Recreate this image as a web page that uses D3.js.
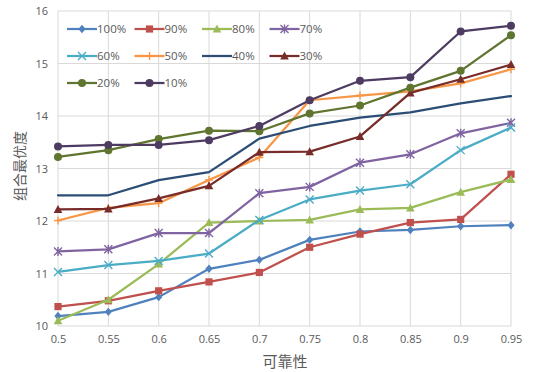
<!DOCTYPE html>
<html><head><meta charset="utf-8">
<script src="https://cdn.jsdelivr.net/npm/d3@7"></script>
<style>
body{margin:0;background:#fff;}
text{font-family:"Open Sans","Noto Sans CJK SC",sans-serif;}
</style></head>
<body><svg id="c" width="534" height="372"></svg>
<script>
const xValues = [0.5,0.55,0.6,0.65,0.7,0.75,0.8,0.85,0.9,0.95];
const xTickLabels = ["0.5","0.55","0.6","0.65","0.7","0.75","0.8","0.85","0.9","0.95"];
const yTicks = [10,11,12,13,14,15,16];
const seriesNames = ["100%","90%","80%","70%","60%","50%","40%","30%","20%","10%"];
const s100 = [10.19,10.27,10.55,11.09,11.26,11.64,11.80,11.83,11.90,11.92];
const s90  = [10.37,10.48,10.67,10.84,11.02,11.50,11.75,11.97,12.03,12.89];
const s80  = [10.10,10.50,11.18,11.97,12.00,12.02,12.22,12.25,12.55,12.79];
const s70  = [11.42,11.46,11.77,11.77,12.53,12.65,13.11,13.27,13.67,13.87];
const s60  = [11.03,11.16,11.24,11.38,12.02,12.41,12.58,12.70,13.35,13.78];
const s50  = [12.01,12.25,12.34,12.78,13.21,14.30,14.39,14.47,14.62,14.89];
const s40  = [12.49,12.49,12.78,12.93,13.57,13.81,13.97,14.07,14.24,14.38];
const s30  = [12.22,12.23,12.43,12.67,13.31,13.32,13.61,14.44,14.70,14.98];
const s20  = [13.22,13.35,13.56,13.72,13.71,14.05,14.20,14.54,14.86,15.54];
const s10  = [13.42,13.45,13.45,13.54,13.81,14.30,14.67,14.74,15.61,15.72];
const seriesValues = [s100,s90,s80,s70,s60,s50,s40,s30,s20,s10];
const colors = ["#4F81BD","#C0504D","#9BBB59","#8064A2","#4BACC6","#F79646","#2C4D75","#772C2A","#5F7530","#4D3B62"];
const markers = ["diamond","square","triangle","star","x","plus","none","triangle","circle","circle"];

const svg = d3.select("#c");
const pL=58, pR=511, pT=11, pB=326;
const x = d3.scalePoint().domain(xValues).range([pL,pR]);
const y = d3.scaleLinear().domain([10,16]).range([pB,pT]);

// gridlines
const g = svg.append("g");
g.selectAll(".hg").data(yTicks).enter().append("line")
 .attr("x1",pL).attr("x2",pR).attr("y1",d=>y(d)).attr("y2",d=>y(d))
 .attr("stroke","#d9d9d9").attr("stroke-width",1);
g.selectAll(".vg").data(xValues).enter().append("line")
 .attr("x1",d=>x(d)).attr("x2",d=>x(d)).attr("y1",pT).attr("y2",pB)
 .attr("stroke","#d9d9d9").attr("stroke-width",1);

// axes
const yAxis = d3.axisLeft(y).tickValues(yTicks).tickSize(0).tickPadding(10).tickFormat(d3.format("d"));
const ya = svg.append("g").attr("transform",`translate(${pL},0)`).call(yAxis);
ya.select(".domain").remove();
ya.selectAll("text").attr("fill","#595959").style("font-size","11px");
const xAxis = d3.axisBottom(x).tickSize(0).tickPadding(9).tickFormat((d,i)=>xTickLabels[i]);
const xa = svg.append("g").attr("transform",`translate(0,${pB})`).call(xAxis);
xa.select(".domain").remove();
xa.selectAll("text").attr("fill","#595959").style("font-size","11px");

svg.append("text").attr("x",285).attr("y",367).attr("text-anchor","middle")
 .attr("fill","#595959").style("font-size","15px").style("font-family","'Noto Sans CJK SC',sans-serif").text("可靠性");
svg.append("text").attr("transform","translate(25,166) rotate(-90)").attr("text-anchor","middle")
 .attr("fill","#595959").style("font-size","14px").style("font-family","'Noto Sans CJK SC',sans-serif").text("组合最优度");

function drawMarker(sel, type, color, cx, cy){
  const s=3.6;
  if(type==="diamond"){
    sel.append("path").attr("d",`M${cx},${cy-s-0.6}L${cx+s},${cy}L${cx},${cy+s+0.6}L${cx-s},${cy}Z`).attr("fill",color);
  } else if(type==="square"){
    sel.append("rect").attr("x",cx-3.6).attr("y",cy-3.6).attr("width",7.2).attr("height",7.2).attr("fill",color);
  } else if(type==="triangle"){
    sel.append("path").attr("d",`M${cx},${cy-4.5}L${cx+4.3},${cy+3.5}L${cx-4.3},${cy+3.5}Z`).attr("fill",color);
  } else if(type==="circle"){
    sel.append("circle").attr("cx",cx).attr("cy",cy).attr("r",4).attr("fill",color);
  } else if(type==="x"){
    sel.append("path").attr("d",`M${cx-4},${cy-4}L${cx+4},${cy+4}M${cx-4},${cy+4}L${cx+4},${cy-4}`).attr("stroke",color).attr("stroke-width",1.4);
  } else if(type==="star"){
    sel.append("path").attr("d",`M${cx-4},${cy-4}L${cx+4},${cy+4}M${cx-4},${cy+4}L${cx+4},${cy-4}M${cx},${cy-4.5}L${cx},${cy+4.5}`).attr("stroke",color).attr("stroke-width",1.4);
  } else if(type==="plus"){
    sel.append("path").attr("d",`M${cx-4},${cy}L${cx+4},${cy}M${cx},${cy-4}L${cx},${cy+4}`).attr("stroke",color).attr("stroke-width",1.4);
  }
}

const line = d3.line().x((d,i)=>x(xValues[i])).y(d=>y(d));
seriesValues.forEach((vals,k)=>{
  const sg = svg.append("g");
  sg.append("path").attr("d",line(vals)).attr("fill","none").attr("stroke",colors[k])
    .attr("stroke-width",2.25).attr("stroke-linejoin","round").attr("stroke-linecap","round");
  vals.forEach((v,i)=>drawMarker(sg,markers[k],colors[k],x(xValues[i]),y(v)));
});

// legend
const lg = svg.append("g");
seriesNames.forEach((n,k)=>{
  const col=k%4, row=Math.floor(k/4);
  const lx=67+col*67.5, ly=29+row*27;
  lg.append("line").attr("x1",lx).attr("x2",lx+30).attr("y1",ly).attr("y2",ly)
    .attr("stroke",colors[k]).attr("stroke-width",2.25);
  drawMarker(lg,markers[k],colors[k],lx+15,ly);
  lg.append("text").attr("x",lx+30).attr("y",ly+4).attr("fill","#595959")
    .style("font-size","11.5px").text(n);
});
</script></body></html>
